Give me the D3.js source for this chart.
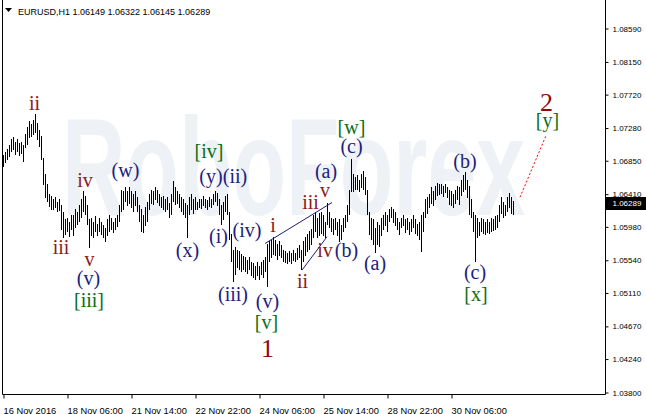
<!DOCTYPE html>
<html><head><meta charset="utf-8">
<script src="https://cdn.jsdelivr.net/npm/d3@7"></script>
<style>html,body{margin:0;padding:0;background:#fff;}svg{display:block}</style>
</head><body><svg id="c" width="646" height="414"></svg>
<script>
const symbol = "EURUSD,H1";
const lastOHLC = [1.06149, 1.06322, 1.06145, 1.06289];
const highs = [
1.0693,1.0696,1.0700,1.0706,1.0713,1.0716,1.0710,1.0713,1.0708,1.0710,
1.0706,1.0720,1.0729,1.0737,1.0733,1.0739,1.0746,1.0735,1.0726,1.0717,
1.0689,1.0667,1.0654,1.0641,1.0638,1.0634,1.0637,1.0631,1.0634,1.0627,
1.0618,1.0608,1.0610,1.0605,1.0613,1.0614,1.0621,1.0618,1.0627,1.0634,
1.0645,1.0639,1.0627,1.0608,1.0610,1.0605,1.0612,1.0602,1.0610,1.0605,
1.0600,1.0597,1.0608,1.0614,1.0610,1.0605,1.0610,1.0614,1.0627,1.0647,
1.0645,1.0651,1.0645,1.0650,1.0645,1.0641,1.0645,1.0637,1.0627,1.0621,
1.0614,1.0624,1.0631,1.0641,1.0647,1.0645,1.0651,1.0647,1.0641,1.0637,
1.0638,1.0634,1.0637,1.0630,1.0641,1.0658,1.0650,1.0645,1.0641,1.0637,
1.0634,1.0630,1.0627,1.0637,1.0641,1.0634,1.0637,1.0631,1.0635,1.0634,
1.0638,1.0635,1.0633,1.0637,1.0634,1.0641,1.0645,1.0643,1.0634,1.0627,
1.0631,1.0639,1.0641,1.0618,1.0588,1.0568,1.0571,1.0568,1.0566,1.0562,
1.0560,1.0558,1.0555,1.0558,1.0552,1.0550,1.0547,1.0552,1.0547,1.0552,
1.0555,1.0558,1.0575,1.0579,1.0581,1.0585,1.0581,1.0576,1.0579,1.0574,
1.0568,1.0566,1.0563,1.0566,1.0563,1.0567,1.0564,1.0570,1.0574,1.0568,
1.0579,1.0584,1.0588,1.0592,1.0595,1.0614,1.0618,1.0610,1.0616,1.0618,
1.0613,1.0605,1.0630,1.0618,1.0610,1.0608,1.0610,1.0605,1.0608,1.0601,
1.0610,1.0614,1.0627,1.0647,1.0687,1.0667,1.0663,1.0666,1.0660,1.0667,
1.0671,1.0663,1.0647,1.0618,1.0610,1.0608,1.0597,1.0605,1.0601,1.0610,
1.0614,1.0618,1.0614,1.0621,1.0624,1.0621,1.0618,1.0610,1.0605,1.0610,
1.0614,1.0608,1.0610,1.0605,1.0608,1.0613,1.0608,1.0602,1.0605,1.0614,
1.0618,1.0634,1.0637,1.0641,1.0650,1.0645,1.0652,1.0656,1.0654,1.0655,
1.0652,1.0655,1.0651,1.0647,1.0645,1.0641,1.0647,1.0652,1.0650,1.0660,
1.0666,1.0670,1.0660,1.0652,1.0634,1.0618,1.0614,1.0610,1.0605,1.0610,
1.0608,1.0605,1.0608,1.0605,1.0609,1.0608,1.0612,1.0614,1.0627,1.0637,
1.0631,1.0627,1.0637,1.0643,1.0637,1.06322
];
const lows = [
1.0677,1.0683,1.0687,1.0691,1.0697,1.0700,1.0693,1.0697,1.0692,1.0695,
1.0684,1.0702,1.0706,1.0716,1.0717,1.0720,1.0722,1.0713,1.0704,1.0687,
1.0654,1.0637,1.0631,1.0625,1.0621,1.0621,1.0624,1.0618,1.0620,1.0595,
1.0584,1.0588,1.0592,1.0585,1.0595,1.0587,1.0597,1.0601,1.0605,1.0610,
1.0618,1.0614,1.0601,1.0571,1.0587,1.0584,1.0592,1.0587,1.0592,1.0588,
1.0584,1.0579,1.0587,1.0592,1.0595,1.0591,1.0595,1.0599,1.0605,1.0618,
1.0621,1.0631,1.0626,1.0629,1.0624,1.0618,1.0626,1.0618,1.0605,1.0592,
1.0591,1.0600,1.0605,1.0621,1.0629,1.0627,1.0634,1.0630,1.0626,1.0624,
1.0621,1.0618,1.0621,1.0610,1.0614,1.0631,1.0627,1.0629,1.0624,1.0618,
1.0614,1.0610,1.0584,1.0614,1.0621,1.0616,1.0621,1.0621,1.0624,1.0622,
1.0626,1.0624,1.0621,1.0625,1.0624,1.0627,1.0631,1.0626,1.0614,1.0601,
1.0608,1.0618,1.0614,1.0581,1.0552,1.0526,1.0535,1.0545,1.0542,1.0539,
1.0542,1.0539,1.0537,1.0542,1.0534,1.0531,1.0529,1.0534,1.0529,1.0535,
1.0531,1.0539,1.0520,1.0552,1.0558,1.0562,1.0560,1.0555,1.0560,1.0558,
1.0552,1.0551,1.0550,1.0552,1.0550,1.0554,1.0552,1.0555,1.0558,1.0542,
1.0552,1.0560,1.0566,1.0568,1.0575,1.0584,1.0592,1.0584,1.0587,1.0589,
1.0587,1.0584,1.0601,1.0597,1.0592,1.0588,1.0595,1.0587,1.0579,1.0581,
1.0592,1.0597,1.0605,1.0614,1.0645,1.0645,1.0647,1.0647,1.0645,1.0650,
1.0647,1.0641,1.0614,1.0588,1.0581,1.0575,1.0564,1.0575,1.0572,1.0587,
1.0595,1.0600,1.0592,1.0605,1.0610,1.0604,1.0600,1.0595,1.0588,1.0597,
1.0600,1.0591,1.0595,1.0588,1.0592,1.0597,1.0589,1.0587,1.0581,1.0566,
1.0592,1.0610,1.0616,1.0624,1.0629,1.0626,1.0634,1.0639,1.0641,1.0642,
1.0638,1.0643,1.0637,1.0627,1.0626,1.0624,1.0629,1.0634,1.0627,1.0639,
1.0645,1.0647,1.0637,1.0614,1.0610,1.0592,1.0552,1.0584,1.0587,1.0592,
1.0589,1.0588,1.0591,1.0589,1.0592,1.0593,1.0595,1.0597,1.0605,1.0616,
1.0610,1.0613,1.0618,1.0624,1.0616,1.06145
];
const timeLabels = ["16 Nov 2016","18 Nov 06:00","21 Nov 14:00","22 Nov 22:00","24 Nov 06:00","25 Nov 14:00","28 Nov 22:00","30 Nov 06:00"];
const barsPerTimeLabel = 32;
const priceTicks = [1.08590,1.08150,1.07720,1.07280,1.06850,1.06410,1.05980,1.05540,1.05110,1.04670,1.04240,1.03800];
// wave labels: text, bar index, price, degree
const waveLabels = [
 ["ii",15.75,1.0752,"r"],["iii",29,1.0562,"r"],["iv",41,1.0651,"r"],["v",43.25,1.0546,"r"],
 ["(v)",42.75,1.0522,"b"],["[iii]",43,1.0493,"g"],["(w)",61.25,1.0664,"b"],["(x)",92.25,1.0558,"b"],
 ["[iv]",103,1.0688,"g"],["(y)",104,1.0656,"b"],["(ii)",116,1.0656,"b"],["(i)",107.75,1.0577,"b"],
 ["(iv)",122,1.0584,"b"],["(iii)",115,1.0501,"b"],["i",135,1.0591,"r"],["(v)",132.25,1.0491,"b"],
 ["[v]",131.75,1.0463,"g"],["1",132.25,1.0427,"big"],["ii",149.75,1.0518,"r"],["iii",153.75,1.0621,"r"],
 ["v",161,1.0637,"r"],["(a)",161.5,1.0662,"b"],["iv",161,1.0558,"r"],["(b)",171.75,1.0558,"b"],
 ["[w]",174.25,1.0720,"g"],["(c)",174.25,1.0695,"b"],["(a)",186,1.0541,"b"],["(b)",231,1.0676,"b"],
 ["(c)",236,1.0530,"b"],["[x]",236.5,1.0500,"g"],["2",271.75,1.0751,"big"],["[y]",272.25,1.0730,"g"]
];
const channelLines = [[131,1.0576,164.5,1.0630],[149.5,1.0541,162,1.0585]];
const forecastLine = [258.5,1.0637,271.5,1.0718];

const svg = d3.select("#c");
const x = d3.scaleLinear().domain([0,301]).range([3,605]);
const y = d3.scaleLinear().domain([1.0380,1.0859]).range([392.5,28.5]);
const px = i => Math.round(x(i)) + 0.5;

// watermark
svg.append("text").attr("x",62).attr("y",215).text("RoboForex")
 .attr("font-family","Liberation Sans, Arial, sans-serif").attr("font-weight","bold")
 .attr("font-size",140).attr("fill","#eef1f5")
 .attr("textLength",463).attr("lengthAdjust","spacingAndGlyphs");

// frame
svg.append("path").attr("d","M2.5,0V394.5H605.5V0").attr("fill","none").attr("stroke","#000").attr("stroke-width",1);

// bars
svg.append("g").selectAll("line").data(highs).join("line")
 .attr("x1",(d,i)=>px(i)).attr("x2",(d,i)=>px(i))
 .attr("y1",d=>y(d)).attr("y2",(d,i)=>y(lows[i])+0.5)
 .attr("stroke","#000").attr("stroke-width",1).attr("shape-rendering","crispEdges");

// channel lines
svg.append("g").selectAll("line").data(channelLines).join("line")
 .attr("x1",d=>x(d[0])).attr("y1",d=>y(d[1])).attr("x2",d=>x(d[2])).attr("y2",d=>y(d[3]))
 .attr("stroke","#1c1c78").attr("stroke-width",1);
svg.append("line").attr("x1",x(forecastLine[0])).attr("y1",y(forecastLine[1]))
 .attr("x2",x(forecastLine[2])).attr("y2",y(forecastLine[3]))
 .attr("stroke","#ff0000").attr("stroke-width",1).attr("stroke-dasharray","2,2");

// wave labels
const col = {r:"#8b1a1a", b:"#20207e", g:"#0c6e14", big:"#8e0a0a"};
svg.append("g").selectAll("text").data(waveLabels).join("text")
 .attr("x",d=>x(d[1])).attr("y",d=>y(d[2])).attr("text-anchor","middle")
 .attr("font-family","Liberation Serif, Times New Roman, serif")
 .attr("font-size",d=>d[3]==="big"?26:20).attr("fill",d=>col[d[3]]).text(d=>d[0]);

// x axis
const xAxis = d3.axisBottom(x).tickValues(timeLabels.map((d,k)=>k*barsPerTimeLabel))
 .tickFormat((d,k)=>timeLabels[k]).tickSize(4).tickSizeOuter(0);
const gx = svg.append("g").attr("transform","translate(0,394.5)").call(xAxis);
gx.select(".domain").remove();
gx.selectAll(".tick line").attr("stroke","#000").attr("transform","translate(0.5,0)");
gx.selectAll(".tick text").attr("text-anchor","start").attr("dx",0).attr("y",13)
 .attr("font-family","Liberation Sans, Arial, sans-serif").attr("font-size",9.3).attr("fill","#000");

// y axis
const yAxis = d3.axisRight(y).tickValues(priceTicks).tickFormat(d3.format(".5f")).tickSize(3).tickSizeOuter(0);
const gy = svg.append("g").attr("transform","translate(605.5,0)").call(yAxis);
gy.select(".domain").remove();
gy.selectAll(".tick line").attr("stroke","#000");
gy.selectAll(".tick text").attr("x",7).attr("font-family","Liberation Sans, Arial, sans-serif")
 .attr("font-size",8).attr("fill","#000");

// current price box
const cy = y(lastOHLC[3]);
svg.append("rect").attr("x",606).attr("y",Math.round(cy)-6).attr("width",40).attr("height",13).attr("fill","#000");
svg.append("text").attr("x",612.5).attr("y",cy+3).text(d3.format(".5f")(lastOHLC[3]))
 .attr("font-family","Liberation Sans, Arial, sans-serif").attr("font-size",8).attr("fill","#fff");

// title
svg.append("path").attr("d","M5,8H12L8.5,12Z").attr("fill","#000");
svg.append("text").attr("x",18).attr("y",14.5)
 .attr("font-family","Liberation Sans, Arial, sans-serif").attr("font-size",9).attr("fill","#000")
 .text(symbol + "  " + lastOHLC.map(d3.format(".5f")).join(" "));
</script></body></html>
